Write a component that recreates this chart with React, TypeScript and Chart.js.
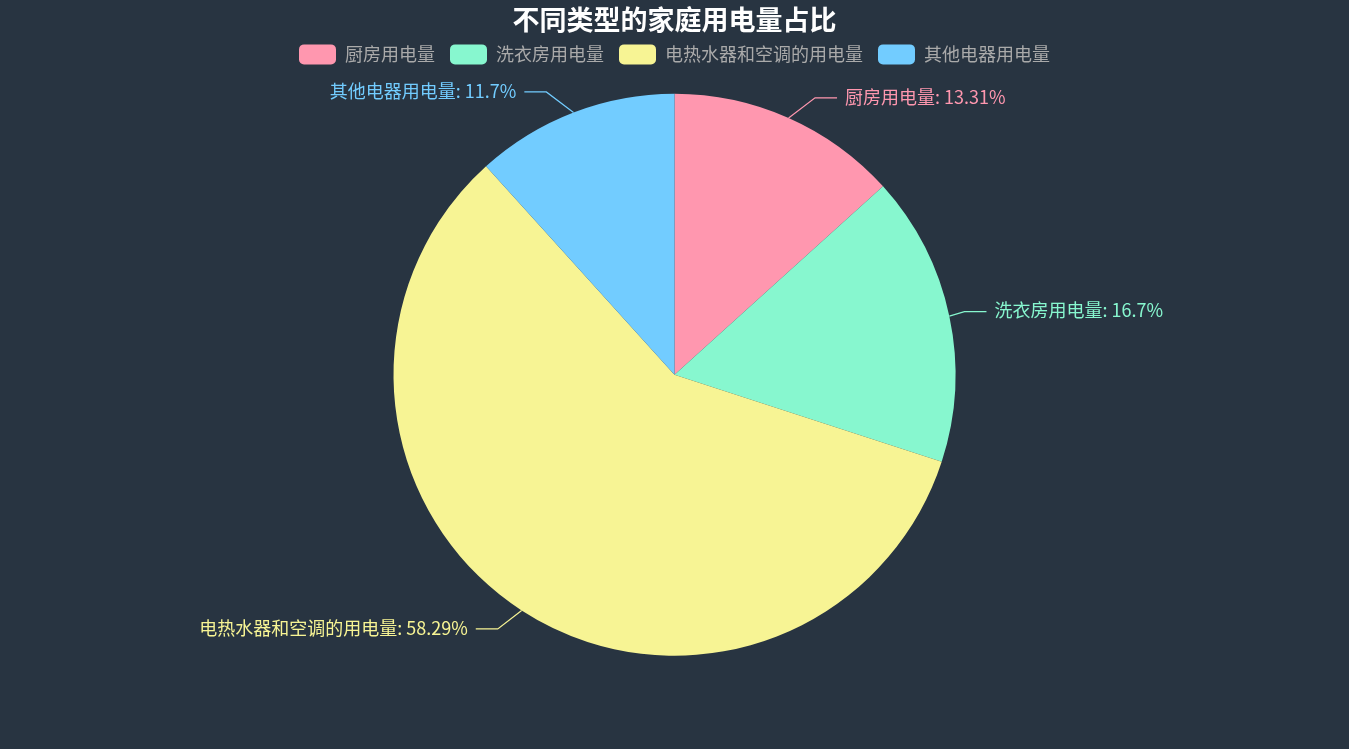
import { useEffect, useRef } from 'react';
import { Chart, registerables, Plugin } from 'chart.js';

Chart.register(...registerables);

const categories = ['厨房用电量', '洗衣房用电量', '电热水器和空调的用电量', '其他电器用电量'];
const shares = [13.31, 16.7, 58.29, 11.7];
const colors = ['#FF97AF', '#87F7CF', '#F7F494', '#72CCFF'];

const BG = '#283441';
const FONT = "'Noto Sans CJK SC', 'Noto Sans', sans-serif";

// outside labels with a two-part leader line, echarts style
const outsideLabels: Plugin<'pie'> = {
  id: 'outsideLabels',
  afterDatasetsDraw(chart) {
    const { ctx } = chart;
    const meta = chart.getDatasetMeta(0);
    ctx.save();
    ctx.font = `18px ${FONT}`;
    ctx.lineWidth = 1.2;
    ctx.textBaseline = 'middle';
    meta.data.forEach((el: any, i) => {
      const { x, y, startAngle, endAngle, outerRadius } = el.getProps(
        ['x', 'y', 'startAngle', 'endAngle', 'outerRadius'],
        true
      );
      const mid = (startAngle + endAngle) / 2;
      const dx = Math.cos(mid);
      const dy = Math.sin(mid);
      const side = dx >= 0 ? 1 : -1;
      const ex = x + dx * outerRadius;
      const ey = y + dy * outerRadius;
      const bx = ex + side * (15 + 15 * Math.abs(dy) ** 3);
      const by = y + dy * (outerRadius + 22);
      const hx = bx + side * 22;
      ctx.strokeStyle = colors[i];
      ctx.beginPath();
      ctx.moveTo(ex, ey);
      ctx.lineTo(bx, by);
      ctx.lineTo(hx, by);
      ctx.stroke();
      ctx.fillStyle = colors[i];
      ctx.textAlign = side > 0 ? 'left' : 'right';
      ctx.fillText(`${categories[i]}: ${shares[i]}%`, hx + side * 8, by - 1);
    });
    ctx.restore();
  },
};

export default function App() {
  const canvasRef = useRef<HTMLCanvasElement>(null);

  useEffect(() => {
    document.body.style.margin = '0';
    if (!canvasRef.current) return;
    const chart = new Chart(canvasRef.current, {
      type: 'pie',
      data: {
        labels: categories,
        datasets: [
          {
            data: shares,
            backgroundColor: colors,
            borderWidth: 0,
            radius: 281,
          },
        ],
      },
      options: {
        animation: false,
        responsive: true,
        maintainAspectRatio: false,
        layout: { padding: { top: 0, bottom: 74 } },
        plugins: {
          title: {
            display: true,
            text: '不同类型的家庭用电量占比',
            color: '#ffffff',
            font: { size: 27, weight: 'bold', family: FONT },
            padding: { top: 4, bottom: -7 },
          },
          legend: {
            position: 'top',
            labels: {
              color: '#aaaaaa',
              font: { size: 18, family: FONT },
              boxWidth: 37,
              boxHeight: 20,
              useBorderRadius: true,
              borderRadius: 5,
              padding: 15,
            },
          },
          tooltip: { enabled: true },
        },
      },
      plugins: [outsideLabels],
    });
    return () => chart.destroy();
  }, []);

  return (
    <div style={{ width: 1349, height: 749, background: BG }}>
      <canvas ref={canvasRef} />
    </div>
  );
}
